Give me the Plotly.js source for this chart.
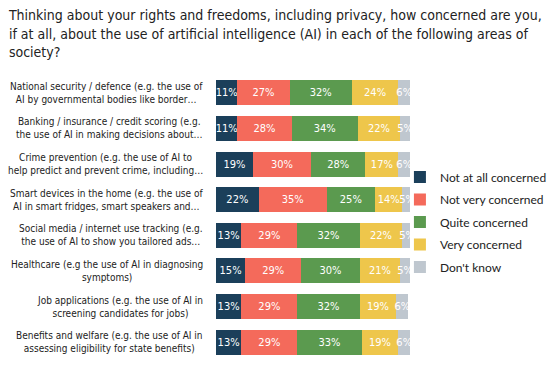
<!DOCTYPE html>
<html><head><meta charset="utf-8">
<script src="https://cdn.plot.ly/plotly-3.0.1.min.js"></script>
<style>body{margin:0;background:#fff}#c{width:557px;height:384px}</style>
</head><body><div id="c"></div>
<script>
var categories = [
  "National security / defence (e.g. the use of<br>AI by governmental bodies like border…",
  "Banking / insurance / credit scoring (e.g.<br>the use of AI in making decisions about…",
  "Crime prevention (e.g. the use of AI to<br>help predict and prevent crime, including…",
  "Smart devices in the home (e.g. the use of<br>AI in smart fridges, smart speakers and…",
  "Social media / internet use tracking (e.g.<br>the use of AI to show you tailored ads…",
  "Healthcare (e.g the use of AI in diagnosing<br>symptoms)",
  "Job applications (e.g. the use of AI in<br>screening candidates for jobs)",
  "Benefits and welfare (e.g. the use of AI in<br>assessing eligibility for state benefits)"
];
var seriesNames = ["Not at all concerned","Not very concerned","Quite concerned","Very concerned","Don't know"];
var notAtAll   = [11,11,19,22,13,15,13,13];
var notVery    = [27,28,30,35,29,29,29,29];
var quite      = [32,34,28,25,32,30,32,33];
var very       = [24,22,17,14,22,21,19,19];
var dontKnow   = [6,5,6,5,5,5,6,6];
var series = [notAtAll, notVery, quite, very, dontKnow];
var colors = ["#1b3f5a","#f46a5b","#5b9a4f","#eec64b","#bfc7cf"];
var ids = categories.map(function(c,i){return "c"+i;});

var traces = series.map(function(vals, k){
  return {
    type:"bar", orientation:"h", name: seriesNames[k], legendgroup:"g"+k,
    y: ids, x: vals,
    marker:{color: colors[k]},
    text: vals.map(function(v){return v+"%";}),
    textposition:"inside", insidetextanchor:"middle", textangle:0,
    constraintext:"none",
    textfont:{family:"DejaVu Sans Condensed", size:11, color:"#ffffff"},
    hoverinfo:"none"
  };
});

var annotations = categories.map(function(c,i){
  return {xref:"paper", yref:"y", x:-0.055, y:ids[i], text:c, showarrow:false,
    xanchor:"right", yanchor:"middle", align:"center",
    font:{family:"DejaVu Sans Condensed", size:10, color:"#222"}};
});

var layout = {
  width:557, height:384,
  margin:{l:216, r:147, t:75, b:24, autoexpand:false},
  paper_bgcolor:"#fff", plot_bgcolor:"#fff",
  barmode:"stack", bargap:0.3,
  title:{text:"Thinking about your rights and freedoms, including privacy, how concerned are you,<br>if at all, about the use of artificial intelligence (AI) in each of the following areas of<br>society?",
    x:0.016, xanchor:"left", xref:"container", y:0.947, yanchor:"top", yref:"container",
    font:{family:"DejaVu Sans Condensed", size:14, color:"#222"}},
  xaxis:{range:[0,100], visible:false, fixedrange:true},
  yaxis:{autorange:"reversed", showticklabels:false, showgrid:false, zeroline:false, showline:false, ticks:""},
  showlegend:true,
  legend:{xref:"container", yref:"container", x:0.718, xanchor:"left", y:0.422, yanchor:"middle",
    traceorder:"grouped", tracegroupgap:3.5,
    font:{family:"Lato", size:12, color:"#222"}, bgcolor:"rgba(0,0,0,0)"},
  annotations: annotations
};
Plotly.newPlot("c", traces, layout, {displayModeBar:false, staticPlot:true});
</script></body></html>
